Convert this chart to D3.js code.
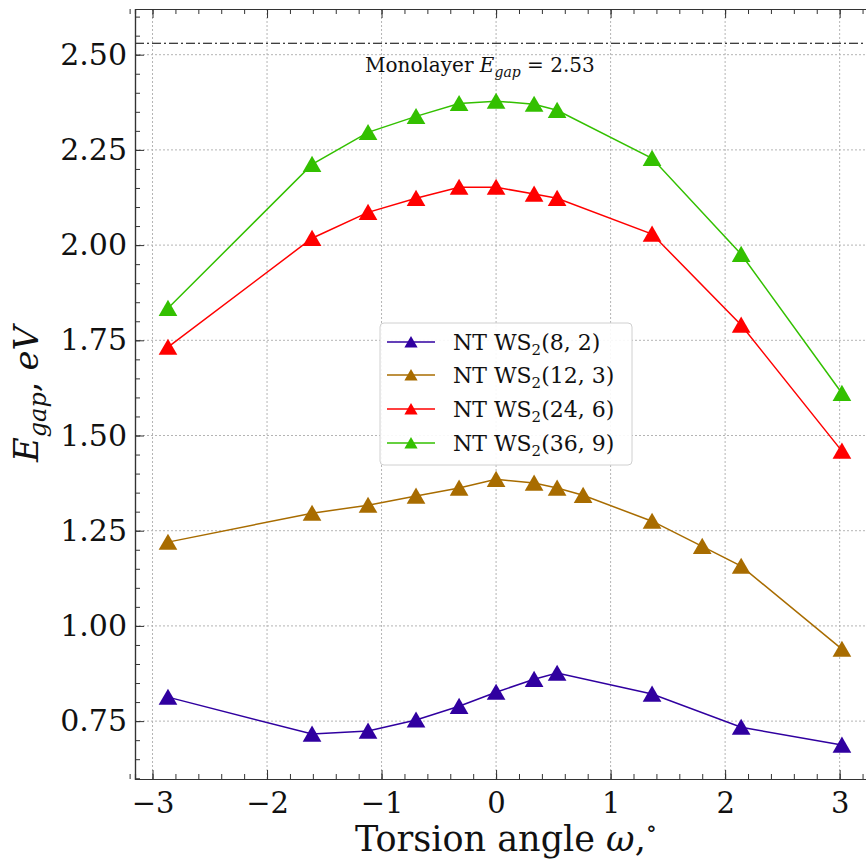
<!DOCTYPE html>
<html><head><meta charset="utf-8">
<script src="https://cdn.jsdelivr.net/npm/d3@7"></script>
<style>body{margin:0;background:#fff;} svg{display:block;}</style>
</head><body><div id="chart"></div>
<script>
const angles = [-2.865, -1.607, -1.118, -0.699, -0.323, 0, 0.332, 0.533, 1.362, 2.14, 3.02];
const anglesBrown = [-2.865, -1.607, -1.118, -0.699, -0.323, 0, 0.332, 0.533, 0.76, 1.362, 1.80, 2.14, 3.02];
const nt82 = [0.813, 0.716, 0.724, 0.753, 0.789, 0.826, 0.860, 0.876, 0.821, 0.734, 0.687];
const nt123 = [1.220, 1.296, 1.317, 1.341, 1.362, 1.385, 1.375, 1.362, 1.343, 1.275, 1.209, 1.157, 0.939];
const nt246 = [1.732, 2.018, 2.086, 2.123, 2.152, 2.152, 2.134, 2.123, 2.029, 1.790, 1.459];
const nt369 = [1.834, 2.212, 2.296, 2.338, 2.372, 2.378, 2.370, 2.354, 2.228, 1.976, 1.611];
const seriesNames = ["(8, 2)", "(12, 3)", "(24, 6)", "(36, 9)"];
const seriesColors = ["#3000a0", "#a86c00", "#ff0000", "#33c000"];
const xTicks = [-3, -2, -1, 0, 1, 2, 3];
const yTicks = [0.75, 1.00, 1.25, 1.50, 1.75, 2.00, 2.25, 2.50];
const monolayerGap = 2.53;

const series = [
  {name: seriesNames[0], color: seriesColors[0], xs: angles, ys: nt82},
  {name: seriesNames[1], color: seriesColors[1], xs: anglesBrown, ys: nt123},
  {name: seriesNames[2], color: seriesColors[2], xs: angles, ys: nt246},
  {name: seriesNames[3], color: seriesColors[3], xs: angles, ys: nt369}
];

(function () {
const W = 866, H = 859;
const pL = 135, pT = 9, pB = 779, pR = 874;
const svg = d3.select("#chart").append("svg").attr("width", W).attr("height", H)
  .style("font-family", "'DejaVu Serif', serif");
svg.append("rect").attr("width", W).attr("height", H).attr("fill", "#fff");

const x = d3.scaleLinear().domain([-3.153, 3.30]).range([pL, pR]);
const y = d3.scaleLinear().domain([0.598, 2.62]).range([pB, pT]);

const g = svg.append("g");
g.selectAll(".gx").data(xTicks).join("line")
  .attr("x1", d => x(d)).attr("x2", d => x(d)).attr("y1", pT).attr("y2", pB)
  .attr("stroke", "#b4b4b4").attr("stroke-width", 1).attr("stroke-dasharray", "2,2");
g.selectAll(".gy").data(yTicks).join("line")
  .attr("y1", d => y(d)).attr("y2", d => y(d)).attr("x1", pL).attr("x2", pR)
  .attr("stroke", "#b4b4b4").attr("stroke-width", 1).attr("stroke-dasharray", "2,2");

g.append("line").attr("x1", pL).attr("x2", pR).attr("y1", y(monolayerGap)).attr("y2", y(monolayerGap))
  .attr("stroke", "#000").attr("stroke-width", 1.2).attr("stroke-dasharray", "9,3,2,3");
const ann = g.append("text").attr("x", 365).attr("y", 72).attr("font-size", 20).attr("fill", "#111");
ann.append("tspan").text("Monolayer ");
ann.append("tspan").attr("font-style", "italic").text("E");
ann.append("tspan").attr("font-style", "italic").attr("font-size", 14).attr("dy", 5).text("gap");
ann.append("tspan").attr("dy", -5).text(" = 2.53");

const xMinor = d3.range(-3.2, 3.41, 0.2).map(v => +v.toFixed(2));
const yMinor = d3.range(0.6, 2.62, 0.05).map(v => +v.toFixed(2));
const axB = d3.axisBottom(x).tickValues(xTicks).tickSizeInner(-9).tickSizeOuter(0).tickPadding(13)
  .tickFormat(d => d < 0 ? "\u2212" + Math.abs(d) : d);
const axBm = d3.axisBottom(x).tickValues(xMinor).tickSize(-5).tickFormat("");
const axT = d3.axisTop(x).tickValues(xTicks).tickSizeInner(-9).tickSizeOuter(0).tickFormat("");
const axTm = d3.axisTop(x).tickValues(xMinor).tickSize(-5).tickFormat("");
const axL = d3.axisLeft(y).tickValues(yTicks).tickSizeInner(-9).tickSizeOuter(0).tickPadding(8)
  .tickFormat(d3.format(".2f"));
const axLm = d3.axisLeft(y).tickValues(yMinor).tickSize(-5).tickFormat("");

function style(sel, fs) {
  sel.select(".domain").attr("stroke", "#333").attr("stroke-width", 1.2);
  sel.selectAll(".tick line").attr("stroke", "#333").attr("stroke-width", 1);
  sel.selectAll("text").attr("font-size", fs).attr("fill", "#111").attr("font-family", "'DejaVu Serif', serif");
}
const gb = svg.append("g").attr("transform", `translate(0,${pB})`).call(axB); style(gb, 29);
const gbm = svg.append("g").attr("transform", `translate(0,${pB})`).call(axBm); style(gbm, 29);
const gt = svg.append("g").attr("transform", `translate(0,${pT})`).call(axT); style(gt, 29);
const gtm = svg.append("g").attr("transform", `translate(0,${pT})`).call(axTm); style(gtm, 29);
const gl = svg.append("g").attr("transform", `translate(${pL},0)`).call(axL); style(gl, 30);
const glm = svg.append("g").attr("transform", `translate(${pL},0)`).call(axLm); style(glm, 30);
gb.selectAll(".tick text").attr("dy", "0.71em");

const triangle = (s) => `M0,${-s}L${s*1.1},${s*0.9}L${-s*1.1},${s*0.9}Z`;
const line = d3.line().x(d => x(d[0])).y(d => y(d[1]));
series.forEach(s => {
  const pts = s.xs.map((v, i) => [v, s.ys[i]]);
  g.append("path").datum(pts).attr("d", line).attr("fill", "none")
    .attr("stroke", s.color).attr("stroke-width", 1.5);
  g.selectAll(null).data(pts).join("path")
    .attr("transform", d => `translate(${x(d[0])},${y(d[1])})`)
    .attr("d", triangle(8.5)).attr("fill", s.color);
});

const lg = svg.append("g");
lg.append("rect").attr("x", 380).attr("y", 323).attr("width", 252).attr("height", 142)
  .attr("rx", 4).attr("fill", "#fff").attr("fill-opacity", 0.9).attr("stroke", "#d0d0d0").attr("stroke-width", 1);
const rowsY = [342, 375, 409, 443];
series.forEach((s, i) => {
  const yy = rowsY[i];
  lg.append("line").attr("x1", 387).attr("x2", 435).attr("y1", yy).attr("y2", yy)
    .attr("stroke", s.color).attr("stroke-width", 1.5);
  lg.append("path").attr("transform", `translate(411,${yy})`).attr("d", triangle(6)).attr("fill", s.color);
  const t = lg.append("text").attr("x", 453).attr("y", yy + 8).attr("font-size", 22).attr("fill", "#111");
  t.append("tspan").text("NT WS");
  t.append("tspan").attr("font-size", 15).attr("dy", 5).text("2");
  t.append("tspan").attr("dy", -5).text(s.name);
});

const xl = svg.append("text").attr("x", 506).attr("y", 851).attr("text-anchor", "middle")
  .attr("font-size", 35).attr("fill", "#111");
xl.append("tspan").text("Torsion angle ");
xl.append("tspan").attr("font-style", "italic").text("\u03c9");
xl.append("tspan").text(",");
xl.append("tspan").attr("font-size", 23).attr("dy", -15).text("\u2218");

const yl = svg.append("text").attr("transform", "translate(38,394) rotate(-90)").attr("text-anchor", "middle")
  .attr("font-size", 34).attr("fill", "#111");
yl.append("tspan").attr("font-style", "italic").text("E");
yl.append("tspan").attr("font-style", "italic").attr("font-size", 24).attr("dy", 8).text("gap");
yl.append("tspan").attr("dy", -8).text(", ");
yl.append("tspan").attr("font-style", "italic").text("eV");
})();
</script></body></html>
